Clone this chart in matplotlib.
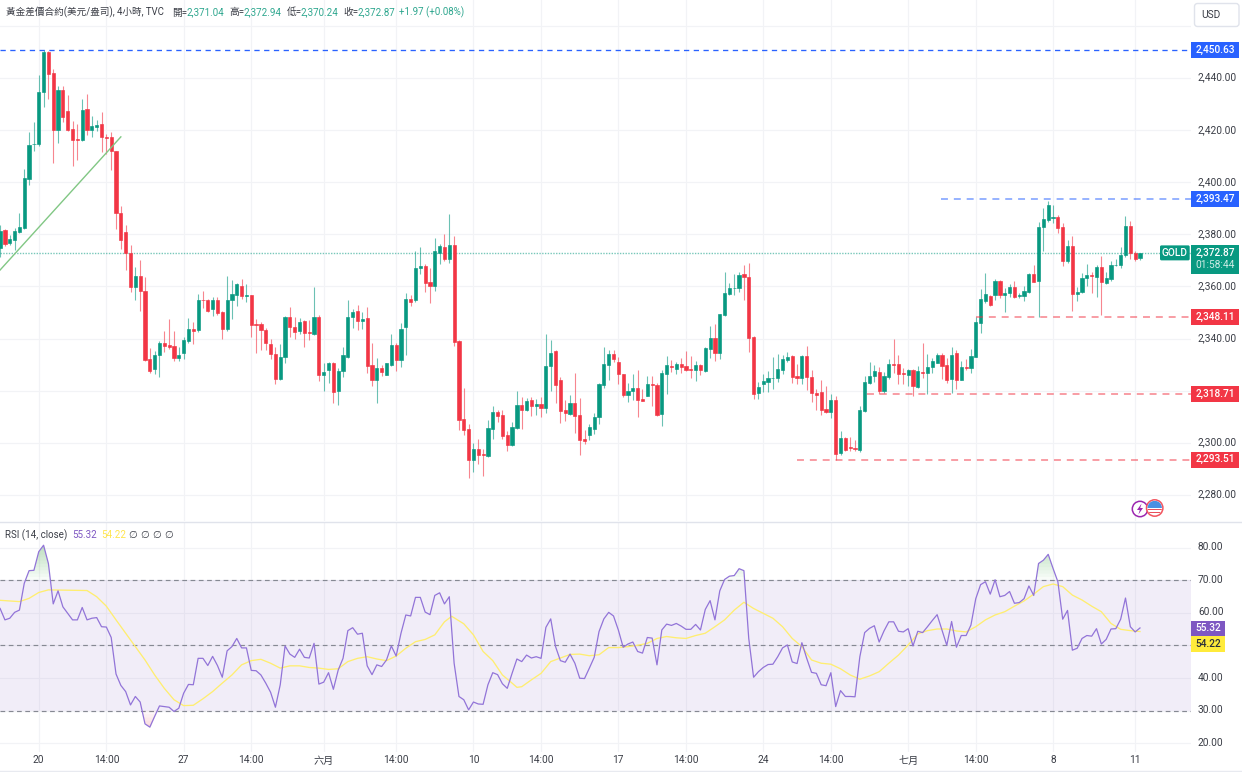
import numpy as np
import matplotlib
matplotlib.use('Agg')
import matplotlib.pyplot as plt
from matplotlib.patches import Circle, FancyBboxPatch, Polygon, Rectangle
from matplotlib.transforms import ScaledTranslation

plt.rcParams['font.family'] = ['Roboto', 'Noto Sans CJK TC', 'DejaVu Sans']

opens = [2374.6,2381.7,2376.5,2377.8,2381,2382.5,2401.4,2414.5,2414.7,2434.5,2449.9,2441.9,2420,2435.5,2427.3,2420.5,2416.6,2416.3,2428,2420,
2421,2422.3,2417.2,2417.4,2412,2388.3,2380.8,2373,2359.7,2364,2358.4,2332,2328.2,2333.5,2338.4,2337.4,2337,2332.6,2334.6,2339.2,
2343.8,2343.3,2354.8,2354.9,2351.5,2354.8,2350.2,2343.6,2354.6,2356.7,2360.2,2356.4,2356.6,2345.6,2345.6,2343.3,2337.8,2334.1,2324.4,2333,
2348.4,2344.3,2342.7,2346.8,2342.4,2341.6,2348.2,2325.8,2328,2330.6,2320,2327.6,2332.8,2348.2,2350.6,2346.8,2347.8,2329.9,2323.9,2328.5,
2325.8,2330,2337.5,2331.8,2344.4,2355.2,2354.8,2367.2,2367.9,2361.7,2360.2,2372.7,2375.1,2370.5,2375.9,2339.2,2309.2,2305.3,2293.2,2297.5,
2295.6,2295,2305.4,2311.8,2310.7,2302.8,2299.3,2305.7,2314.5,2312.6,2316.4,2313.9,2314.9,2313.5,2329.5,2335.1,2324.1,2312.5,2311.1,2315.2,
2310.7,2301.4,2303.1,2305.4,2309.7,2322.3,2330,2334.2,2331.1,2326.5,2318.3,2319.7,2321.1,2316.9,2317.9,2322.4,2322.1,2310.9,2326.5,2329.6,
2328.3,2330.3,2329.3,2328.3,2327.9,2330,2327.5,2336.1,2340.3,2334.3,2349,2357.1,2359.2,2359.2,2364.6,2363.8,2340.6,2318.9,2322.5,2323.3,
2324.7,2324.7,2328,2331.9,2333.4,2325.7,2324.7,2333.1,2325.3,2319.2,2319.5,2312.9,2311.9,2316.5,2295.9,2301.8,2298.3,2297.9,2297.3,2312.2,
2322.8,2325.7,2327.3,2319.9,2325.4,2330.1,2330.3,2326.6,2326,2327.8,2321.3,2327.3,2326.7,2328.9,2330.6,2333.8,2329.9,2324.5,2334.5,2324.1,
2328.9,2328.6,2332.8,2346,2354.4,2356.5,2356.6,2362,2356.7,2357.4,2359.7,2356.3,2356.3,2358,2364.8,2362,2382.9,2385.5,2386.4,2386.5,
2382.9,2369.8,2375.5,2357,2358,2363.1,2364.4,2363.8,2367.6,2361.2,2362.7,2368.1,2368.1,2371.9,2383.3,2372.7,2371.04]
highs = [2383.6,2382,2379.7,2382.3,2388,2405,2419.3,2423,2441,2450.63,2450.2,2443.5,2437,2436.8,2433.3,2423.4,2422.3,2432,2434,2425.5,
2423.8,2427,2418.5,2419.3,2412,2390.9,2383.6,2375.9,2367.3,2370.2,2363.8,2336.3,2335.2,2339.2,2343,2347.4,2343,2336.6,2340.5,2347.8,
2346.2,2357.1,2358.4,2355.3,2356,2355.8,2350.5,2364,2362.5,2361.2,2362.7,2361,2356.7,2347.4,2346.5,2344,2339.7,2336.9,2337.9,2348.7,
2352,2348.2,2347.8,2347.1,2347.1,2359.9,2349,2330.5,2330.9,2330.9,2328.6,2336.6,2354.8,2351.4,2352.8,2350,2352,2338.2,2332.4,2329.9,
2330.6,2341.6,2338.4,2345.9,2357.4,2356.7,2373.4,2375.3,2368.5,2367,2378.5,2376.3,2380.1,2387.7,2379.4,2339.5,2320.9,2307.2,2299.8,2301.5,
2297.5,2308.8,2313.9,2312.4,2312.6,2304.3,2307.9,2319.8,2317.7,2317.1,2317.5,2316.7,2317.7,2341.6,2339.5,2335.4,2325.4,2316.4,2318.4,2326.7,
2317.1,2304.9,2307.2,2311.4,2322.9,2336.7,2335.7,2335.7,2332.9,2326.5,2322.9,2326.4,2327.8,2320.6,2325.7,2325.7,2322.9,2327.8,2333.1,2331.6,
2331,2332.5,2335.1,2333.1,2331.5,2330.4,2336.7,2344.9,2345.7,2349.5,2365.5,2361.3,2364.9,2365.4,2368.4,2369,2340.8,2323.2,2326.4,2327.6,
2332.9,2334,2333.8,2334.7,2333.8,2330.3,2333.8,2337.2,2328,2320.6,2323.9,2321.9,2318.7,2318,2304.4,2302.2,2302,2301.2,2314,2325.7,
2331.1,2329.9,2329.1,2327,2332,2339.8,2333.8,2328.6,2328.3,2328.2,2329.5,2338.4,2334.2,2332.7,2334.3,2334.3,2332.4,2336.6,2335.6,2331.4,
2332,2335.9,2348.2,2358.9,2365,2356.7,2362.7,2362.5,2359.3,2360.9,2362,2357.4,2360.2,2365.3,2368.1,2384.9,2390,2392.9,2391.3,2387.3,
2384.2,2377.8,2379.4,2359.7,2365,2368.6,2365.7,2368.2,2371.7,2365.7,2369.9,2370.4,2375.3,2387,2385.1,2373.7,2372.94]
lows = [2371.2,2375.7,2375.9,2374,2380.4,2382,2398.8,2412,2414,2429,2432,2407.4,2415,2423,2419.5,2406.3,2408.6,2416,2418,2417.4,
2419.5,2411.6,2411,2404.8,2382,2374.4,2366.3,2358,2354.8,2350.6,2331.5,2326.7,2326.4,2325.4,2335,2335.9,2331.5,2331.5,2332,2338.4,
2337.9,2342.4,2351.6,2350.2,2348.8,2349.2,2340,2343,2347.4,2352.5,2355.3,2354.2,2340.7,2334.6,2335.6,2335.6,2332,2322.6,2323.9,2330.5,
2340.7,2340,2341.6,2336.9,2339.5,2341.3,2323.7,2319.9,2323.1,2315.4,2314.3,2325.4,2332.4,2344.2,2343.2,2343.6,2326.7,2321.8,2315.4,2325.7,
2325.8,2329.6,2327.7,2329.2,2333.7,2352.5,2354.2,2364.8,2358,2353.5,2358.4,2368.6,2369.8,2369.1,2337.2,2304.7,2302.9,2286.5,2288.6,2291.8,
2287.3,2294.6,2301.4,2308.1,2301.4,2297,2298.8,2305.2,2305.4,2312,2310.3,2310.7,2310,2311.3,2320,2315.2,2307.7,2308.4,2310.7,2303.9,
2295.3,2299.6,2301.1,2303.4,2307.2,2320.9,2323.9,2330.8,2322.5,2317.5,2315.5,2316.5,2309.7,2315.9,2317.8,2314,2310.4,2306.5,2318.7,2327.1,
2326.5,2326.8,2327.4,2324.8,2323.6,2326.1,2327.3,2332.5,2331.5,2332.1,2348.7,2356.8,2356.8,2357.7,2354.6,2334.7,2316.9,2316.9,2319.3,2319.5,
2320.7,2323.2,2326.5,2330.8,2322.9,2322.5,2322.7,2320.1,2315.5,2312.7,2310.5,2311.4,2309.4,2293.51,2295.4,2297,2296.7,2297,2296.3,2311.8,
2322.5,2323.2,2318.8,2319,2324.5,2326.7,2322.5,2322.5,2321.8,2318.1,2320.9,2325,2318.71,2326.8,2330.5,2324.5,2322.8,2319,2320.7,2324,
2328,2326.7,2332.8,2342.3,2353.5,2352.5,2354.8,2355.4,2350.3,2356,2355.4,2355.4,2354.3,2357.6,2361.5,2348.11,2373.4,2384.7,2384.2,2380.6,
2367.9,2369.1,2350.7,2354.4,2357.6,2360.2,2357.6,2356.1,2349.1,2360.9,2362.2,2367.9,2367.1,2371.4,2370.7,2369.8,2370.24]
closes = [2381.4,2376.3,2378.1,2381.3,2382.7,2401.6,2414.4,2414.8,2434.8,2449.9,2441.7,2420.2,2435.5,2425,2420.2,2416.3,2416.3,2427.8,2420,2421.7,
2422,2417.2,2417,2411.8,2388,2377.8,2372.7,2359.7,2364,2358.4,2331.8,2327.4,2333.7,2338.4,2337.2,2336.8,2332.6,2333.8,2339.5,2343.8,
2342.8,2354.8,2354.6,2350.6,2354.8,2349.7,2343.6,2354.8,2357,2361,2356.3,2356.7,2345.3,2345.3,2343.3,2338.2,2334,2324.5,2333,2348.4,
2344.3,2342.5,2346.5,2342.1,2342.2,2348.2,2325.8,2327,2330.6,2319.6,2327.7,2333.5,2348.4,2350.2,2346.8,2347.6,2329.6,2323.9,2328.8,2327.2,
2330.6,2337.4,2331.8,2343.8,2355.2,2354.2,2367.2,2367.9,2361.3,2360.2,2373.4,2375.5,2370.5,2375.9,2338.8,2308.9,2304.9,2293.2,2297.5,2295.3,
2295.4,2305.7,2311.7,2310.3,2302.5,2299.3,2306,2314.5,2312.6,2316,2313.9,2314.9,2313.5,2329.5,2334.5,2322.1,2312.1,2311.5,2315.2,2310.3,
2301.1,2300.8,2306,2309.9,2322.4,2330.2,2334.2,2332.3,2326.2,2318.3,2320,2321.1,2316.5,2315.9,2322.5,2322.1,2310.6,2326.8,2330,2328.9,
2330.3,2328.9,2327.8,2327.8,2330,2327.9,2336.5,2340.3,2334.3,2349.3,2357.4,2359.5,2359.5,2364.5,2363.8,2340.3,2318.8,2321.4,2323.6,2325,
2325,2328.2,2332.1,2332.9,2325.3,2324.7,2333.1,2325.1,2319,2318.2,2312.6,2311.9,2316.5,2295.8,2301.8,2297.2,2298.1,2297.7,2312.4,2323.2,
2325.7,2327.5,2319.9,2325.7,2330.3,2329.9,2326.4,2326.2,2327.8,2321.6,2327.4,2326.9,2329.2,2331.3,2333.8,2329.6,2324.1,2333.7,2324.1,2329.2,
2328.7,2333.1,2346.2,2355.2,2357,2352.8,2362,2356.7,2357.6,2359.7,2356,2356.7,2358.3,2364.8,2361.8,2382.9,2385.8,2391.1,2386.7,2382.3,
2369.8,2375.5,2357,2358,2363.2,2364.5,2364.1,2367.6,2361.7,2363.2,2368.1,2368.3,2371.9,2383.3,2372.7,2370.7,2372.87]

rsi = [61.3,57.8,58.3,60.1,60.8,69,72.9,73,78.7,80.7,75.1,62.7,66.7,61.8,59.8,57.8,57.8,61.6,57.8,58.3,
58.5,55.7,55.6,52.4,41.2,37.7,35.8,31.7,34.3,32.6,25.9,24.9,28.2,31.4,31.2,31,29.7,30.7,35.3,38,
37.9,46,46,43.8,46.6,43.8,40.2,48.3,49.6,52.1,49.2,49.2,42.3,42.2,40.9,38.4,35.6,31,37.9,49.8,
47.3,46.3,48.8,46.3,46.1,50.6,38.1,38.7,41.6,36.5,42.4,46,54.5,55.4,53.4,53.7,43.7,41,44,43.5,
45.5,49.8,46.7,53.7,59.3,59,64.7,64.7,60.2,59.4,65.3,66.1,62.7,64.9,44.5,34.3,33.3,30.2,32.6,32,
31.9,37.9,41.6,41,38.2,36.8,41.4,45.8,45,47,46.1,46.5,46,55.5,58.1,49.6,45.3,44.8,47.3,44.5,
39.9,39.8,43,46.3,54.2,58.1,60.1,59,54.7,49.4,50.4,51,48.1,47.6,52.4,52.2,44,54.7,56.5,56.1,
56.7,55.9,54.9,54.9,56.4,54.7,61,63.7,57.8,66.7,70.2,71.2,71.4,73.5,72.9,52.1,40.2,41.9,43.2,44.1,
44.2,46.5,49.2,50.1,44.9,44.4,50.8,46,41.7,41.4,37.9,37.6,41.6,31.2,36.1,34.3,34.3,34.2,46.5,53.9,
55.2,56,51,54.4,57.2,57.2,54.3,54.1,55.1,49.8,54.3,53.9,55.7,57.6,59.4,54.7,50,57.3,49.4,53,
53,56.2,64.3,68.6,69.5,65.7,70.1,64.9,65.3,66.5,62.9,63.1,64.3,68.2,65.3,75.1,76.1,77.9,73.6,69.5,
58,60.7,48.5,49.1,52.1,53,52.8,55.1,50.4,51.8,55,55.1,58,64.5,55.7,54.1,55.32]

ma_index = [0,4,6,8,10,14,18,20,22,24,26,28,30,32,34,36,38,40,42,44,46,48,50,52,54,56,58,60,62,64,66,68,70,72,74,76,78,80,82,84,86,
88,90,92,93.5,96,98,100,102,104,106,107,108,110,112,114,116,118,120,122,124,126,128,130,132,134,136,138,140,142,144,146,148,150,152,154,156,158,160,162,164,166,168,170,172,
174,176,178,180,182,184,186,188,190,192,194,196,198,200,202,204,206,208,210,212,214,216,218,220,222,224,226,228,230,232,234,236]
ma_values = [63.8,63.4,64.4,66.2,67,66.9,66.8,64.9,62,57.8,53.7,49.6,45.5,40.9,36.8,33.3,31.5,31.6,33.6,35.8,38.4,40.9,44,45.3,45.7,44.5,43,43.7,43.7,43.2,43,42.6,42.8,45,46,46.5,45.8,45.3,46.7,49.1,51.1,
51.8,53.2,57.2,58.9,56.6,53.2,48.1,45.3,40.9,38.4,37.1,37.3,39.4,41.4,45,46.1,47.2,47.3,46.8,47.1,49.3,49.3,49.6,50,50.6,52.1,52.7,52.3,52.1,53,53.7,55.7,57.8,60.8,63.2,61.3,59.8,58.3,55.7,52.1,49.6,45.5,44.5,44.2,
42.8,40.9,39.6,40.6,41.9,44.5,47,50.1,53.5,54.5,55,55,54.4,54.1,55.7,57.8,59.3,60.3,62,63.6,65.7,68,68.8,68,65.4,63.9,62,60.3,56.7,54.9,54.5,54.22]

tick_index = [8,22,38,52,67,82,98,112,128,142,158,172,188,202,218,235]
tick_labels = ['20','14:00','27','14:00','六月','14:00','10','14:00','17','14:00','24','14:00','七月','14:00','8','11']
price_ticks = [2280,2300,2320,2340,2360,2380,2400,2420,2440,2460]
rsi_ticks = [20,30,40,50,60,70,80]
rsi_levels = [30,50,70]

trend_index = [0,25]
trend_price = [2366.3,2417.4]
last_price = 2372.87
levels = [('2,450.63',2450.63,-0.02,'#2962FF'),('2,393.47',2393.47,194.8,'#2962FF'),
          ('2,348.11',2348.11,202,'#F23645'),('2,318.71',2318.71,179.5,'#F23645'),('2,293.51',2293.51,165,'#F23645')]

GREEN,RED = '#089981','#F23645'
GRID = '#F2F3F6'
TEXT = '#3a3d46'
W,H = 1242,772
fig = plt.figure(figsize=(W/100,H/100),dpi=100,facecolor='white')
def box(x0,y0,x1,y1):
    return [x0/W,1-y1/H,(x1-x0)/W,(y1-y0)/H]
ax = fig.add_axes(box(0,0,1190.7,521))
ar = fig.add_axes(box(0,522,1190.7,752))
XL = (-0.02,246.5)
ax.set_xlim(*XL); ar.set_xlim(*XL)
ax.set_ylim(2440-(521-78)/2.605, 2440+78/2.605)
ar.set_ylim(30-(752-710.5)/3.26, 80+(547.5-522)/3.26)

for a in (ax,ar):
    for s in a.spines.values():
        s.set_visible(False)
    a.set_xticks(tick_index)
    a.grid(True,color=GRID,lw=0.85)
    a.set_axisbelow(True)
    a.yaxis.tick_right()
    a.tick_params(length=0,labelsize=7.3,labelcolor=TEXT,pad=5.2)
ax.tick_params(axis='x',labelbottom=False)
ar.set_xticklabels(tick_labels)
ar.tick_params(axis='x',pad=2.5)
ax.set_yticks(price_ticks)
ax.set_yticklabels([f'{p:,.2f}' if p!=2460 else '' for p in price_ticks])
ar.set_yticks(rsi_ticks)
ar.set_yticklabels([f'{v:.2f}' for v in rsi_ticks])
nudge = ScaledTranslation(0,1.3/100,fig.dpi_scale_trans)
for a in (ax,ar):
    for lab in a.get_yticklabels():
        lab.set_transform(lab.get_transform()+nudge)

# candles
idx = np.arange(len(closes))
o,h,l,c = map(np.array,(opens,highs,lows,closes))
cols = np.where(c>=o,GREEN,RED)
ax.vlines(idx,l,h,colors=cols,lw=0.8,alpha=0.6,zorder=3)
ax.bar(idx,c-o,bottom=o,width=0.66,color=cols,edgecolor=cols,linewidth=0.45,zorder=4)

ax.plot(trend_index,trend_price,color='#81C784',lw=1.0,zorder=5)
ax.axhline(last_price,color=GREEN,lw=1.0,ls=(0,(1,1)),alpha=0.55,zorder=2)
for txt,val,start,col in levels:
    alpha = 1.0 if val==2450.63 else 0.55
    ax.hlines(val,start,XL[1],colors=col,lw=0.95 if val==2450.63 else 1.25,
              linestyles=[(0,(4,3.4))],alpha=alpha,zorder=5)

# RSI
ar.axhspan(30,70,color='#7E57C2',alpha=0.1,lw=0,zorder=1)
for v in rsi_levels:
    ar.axhline(v,color='#868993',lw=0.85,ls=(0,(4,3)),zorder=2)
r = np.array(rsi)
for lev in np.arange(70,80,1.0):
    ar.fill_between(idx,lev,r,where=r>lev,interpolate=True,color='#4CAF50',alpha=0.035,lw=0,zorder=2)
for lev in np.arange(30,24,-1.0):
    ar.fill_between(idx,lev,r,where=r<lev,interpolate=True,color='#F23645',alpha=0.035,lw=0,zorder=2)
ar.plot(ma_index,ma_values,color='#FFEE70',lw=0.95,zorder=3)
ar.plot(idx,r,color='#9274D8',lw=0.9,zorder=4)

# overlay
ov = fig.add_axes([0,0,1,1],zorder=20)
ov.set_xlim(0,W); ov.set_ylim(H,0); ov.axis('off'); ov.patch.set_alpha(0)
def ypix(a,v):
    return ov.transData.inverted().transform(a.transData.transform((0,v)))[1]
def tag(y,txt,fc,tc='white',x0=1190.7,x1=1238.7,hh=7.9):
    ov.add_patch(Rectangle((x0,y-hh),x1-x0,2*hh,fc=fc,ec='none',zorder=3))
    ov.text(1215.5 if x1>1230 else (x0+x1)/2+0.5,y-0.3,txt,color=tc,fontsize=7.3,fontweight='medium',ha='center',va='center',zorder=4)
for txt,val,start,col in levels:
    tag(ypix(ax,val),txt,col)
yl = ypix(ax,last_price)
ov.add_patch(Rectangle((1190.7,yl-8),48,29,fc=GREEN,ec='none',zorder=3))
ov.text(1215.5,yl-0.3,'2,372.87',color='white',fontsize=7.3,fontweight='medium',ha='center',va='center',zorder=4)
ov.text(1215.5,yl+12.2,'01:58:44',color='#CFEDE6',fontsize=7.3,ha='center',va='center',zorder=4)
ov.add_patch(FancyBboxPatch((1160,yl-7.5),29.7,15,boxstyle='round,pad=0,rounding_size=1.5',fc=GREEN,ec='none',zorder=3))
ov.text(1174.7,yl-0.3,'GOLD',color='white',fontsize=7.3,fontweight='medium',ha='center',va='center',zorder=4)
y_rsi = ypix(ar,55.32)+0.5
tag(y_rsi,'55.32','#7E57C2',x1=1225.3)
tag(y_rsi+15.9,'54.22','#FFEB3B',tc='#2a2e39',x1=1225.3)
ov.add_patch(FancyBboxPatch((1194.5,3.5),44.5,23,boxstyle='round,pad=0,rounding_size=3',fc='white',ec='#E0E3EB',lw=1))
ov.text(1201,15.3,'USD',color=TEXT,fontsize=7.3,ha='left',va='center')
ov.plot([0,W],[521.5,521.5],color='#E0E3EB',lw=1)
ov.plot([0,W],[770.8,770.8],color='#E8EAF0',lw=1)

# header
hy = 12.5
ov.text(6,hy,'黃金差價合約(美元/盎司), 4小時, TVC',color=TEXT,fontsize=6.9,va='center')
for x,t,col in [(172.3,'開=',TEXT),(186.7,'2,371.04','#2FA78F'),(229.3,'高=',TEXT),(243.3,'2,372.94','#2FA78F'),
                (286.7,'低=',TEXT),(300.5,'2,370.24','#2FA78F'),(343.5,'收=',TEXT),(357.5,'2,372.87','#2FA78F'),
                (399,'+1.97 (+0.08%)','#2FA78F')]:
    ov.text(x,hy,t,color=col,fontsize=7.0,va='center')
# RSI legend
ry = 535.5
ov.text(5,ry,'RSI (14, close)',color=TEXT,fontsize=7.0,va='center')
ov.text(72,ry,'55.32','' and None or None) if False else None
ov.text(72,ry,'55.32',color='#7E57C2',fontsize=7.0,va='center')
ov.text(101,ry,'54.22',color='#FFE54C',fontsize=7.0,va='center')
for x in (132.7,145,157,169):
    ov.text(x,ry,'∅',color=TEXT,fontsize=7.2,ha='center',va='center',family=['DejaVu Sans'])

# icons
ov.add_patch(Circle((1140,509),7.7,fc='white',ec='#9C27B0',lw=1.1,zorder=5))
ov.add_patch(Polygon([(1141.6,503.5),(1137,510),(1139.8,510),(1138.4,514.5),(1143,508),(1140.2,508)],fc='#9C27B0',ec='none',zorder=6))
c0 = Circle((1154.7,508),8.2,fc='white',ec='#F2555F',lw=1.1,zorder=7)
ov.add_patch(c0)
clip = Circle((1154.7,508),7.2,transform=ov.transData)
for yy,hh,col,x0,ww in [(501,6.8,'#4A90E2',1147,15.4),(508.6,1.4,'#E8505B',1147,15.4),(511.5,1.4,'#E8505B',1147,15.4)]:
    rr = Rectangle((x0,yy),ww,hh,fc=col,ec='none',zorder=8)
    ov.add_patch(rr); rr.set_clip_path(clip)

fig.savefig('out.png',dpi=100,facecolor='white')
